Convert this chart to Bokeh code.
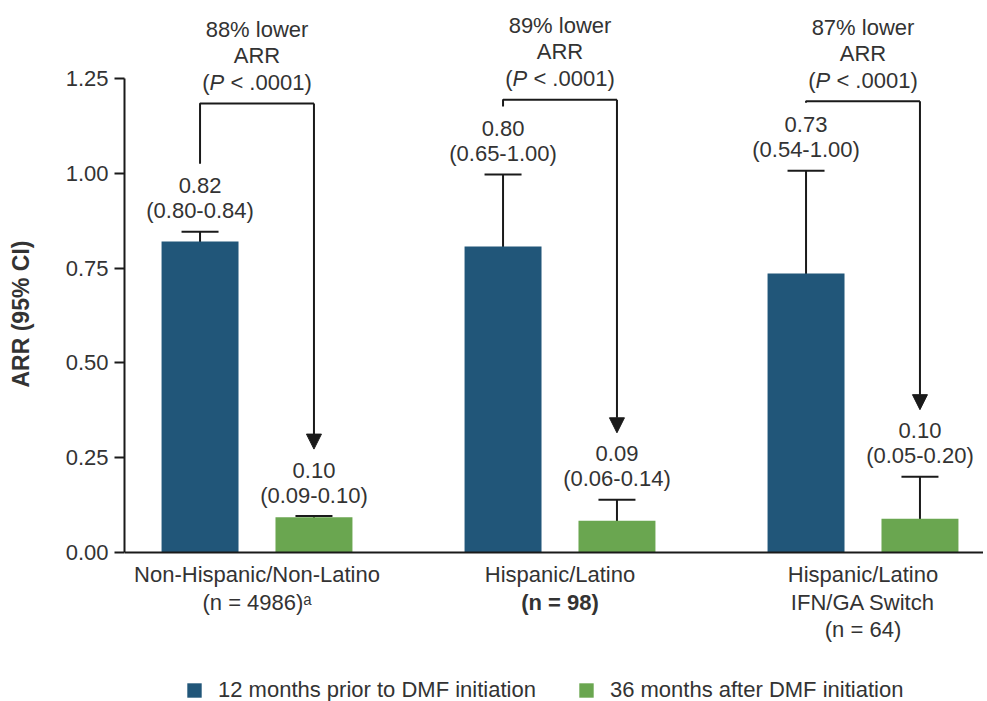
from bokeh.plotting import figure
from bokeh.models import (Range1d, FixedTicker, PrintfTickFormatter, ColumnDataSource,
                          Whisker, TeeHead, Span, Legend, LegendItem, Arrow, NormalHead, Title)
from bokeh.core.properties import value
from bokeh.embed import file_html
from bokeh.resources import INLINE

# ---------------- data ----------------
category_lines = [
    ["Non-Hispanic/Non-Latino", "(n = 4986)\u1d43"],
    ["Hispanic/Latino", "(n = 98)"],
    ["Hispanic/Latino", "IFN/GA Switch", "(n = 64)"],
]
category_bold = [
    [False, False],
    [False, True],
    [False, False, False],
]
series_names = ["12 months prior to DMF initiation", "36 months after DMF initiation"]

prior_arr = [0.820, 0.807, 0.736]
prior_lo = [0.799, 0.646, 0.535]
prior_hi = [0.846, 0.997, 1.007]
prior_value_labels = ["0.82", "0.80", "0.73"]
prior_ci_labels = ["(0.80-0.84)", "(0.65-1.00)", "(0.54-1.00)"]

after_arr = [0.093, 0.084, 0.089]
after_lo = [0.085, 0.054, 0.042]
after_hi = [0.096, 0.139, 0.200]
after_value_labels = ["0.10", "0.09", "0.10"]
after_ci_labels = ["(0.09-0.10)", "(0.06-0.14)", "(0.05-0.20)"]

reduction_labels = ["88% lower", "89% lower", "87% lower"]
reduction_metric = ["ARR", "ARR", "ARR"]
p_value_labels = ["< .0001)", "< .0001)", "< .0001)"]
bracket_top = [1.184, 1.194, 1.190]

y_ticks = [0.0, 0.25, 0.50, 0.75, 1.00, 1.25]
y_axis_title = "ARR (95% CI)"

# ---------------- layout / style ----------------
W, H = 983, 701
LEFT = 124
X0, X1 = -0.4373, 2.3977
Y0, Y1 = -0.3929, 1.4557
PX_Y = H / (Y1 - Y0)
PX_X = (W - LEFT) / (X1 - X0)


def dy(px):
    return px / PX_Y


def dx(px):
    return px / PX_X


OFFSET = 0.188
BAR_W = 0.254
BLUE = "#215679"
GREEN = "#6aa650"
TXT = "#333333"
LINE = "#1a1a1a"
FONT = value("Liberation Sans")
FS = "22px"

n = len(prior_arr)
groups = list(range(n))
x_prior = [g - OFFSET for g in groups]
x_after = [g + OFFSET for g in groups]

p = figure(width=W, height=H, x_range=Range1d(X0, X1), y_range=Range1d(Y0, Y1),
           output_backend="svg", toolbar_location=None, x_axis_location=None,
           min_border_left=LEFT, min_border_right=0, min_border_top=0, min_border_bottom=0)
p.outline_line_color = None
p.grid.visible = False
p.background_fill_color = "white"
p.border_fill_color = "white"

ax = p.yaxis[0]
ax.bounds = (0, 1.25)
ax.ticker = FixedTicker(ticks=y_ticks)
ax.formatter = PrintfTickFormatter(format="%.2f")
ax.axis_line_width = 2
ax.axis_line_color = LINE
ax.major_tick_line_width = 2
ax.major_tick_line_color = LINE
ax.major_tick_out = 10
ax.major_tick_in = 0
ax.minor_tick_out = 0
ax.minor_tick_in = 0
ax.major_label_text_font_size = FS
ax.major_label_text_font = "Liberation Sans"
ax.major_label_text_color = TXT
ax.major_label_standoff = 6
# blank spacer label so that the title below sits further from the tick labels
ax.axis_label = " "
ax.axis_label_text_font_size = "1px"
ax.axis_label_standoff = 20

# y axis title, centred on the axis extent (0 .. 1.25) rather than the whole frame
title_start_px = 0.625 * PX_Y - 72  # px above the baseline where the text starts
p.add_layout(Title(text=y_axis_title, align="left",
                   offset=(0 - Y0) * PX_Y + title_start_px, standoff=10,
                   text_font="Liberation Sans", text_font_size="23px",
                   text_font_style="bold", text_color=TXT), "left")

# bars
src_prior = ColumnDataSource(dict(x=x_prior, top=prior_arr, lo=prior_lo, hi=prior_hi))
src_after = ColumnDataSource(dict(x=x_after, top=after_arr, lo=after_lo, hi=after_hi))
r_prior = p.vbar(x="x", top="top", bottom=0, width=BAR_W, source=src_prior,
                 fill_color=BLUE, line_color=None)
r_after = p.vbar(x="x", top="top", bottom=0, width=BAR_W, source=src_after,
                 fill_color=GREEN, line_color=None)

p.add_layout(Span(location=0, dimension="width", line_color=LINE, line_width=2))

for src in (src_prior, src_after):
    p.add_layout(Whisker(base="x", lower="lo", upper="hi", source=src,
                         line_color=LINE, line_width=2,
                         upper_head=TeeHead(size=37, line_color=LINE, line_width=2),
                         lower_head=TeeHead(size=37, line_color=LINE, line_width=2)))

# value labels


def value_text(xs, his, l1, l2):
    p.text(x=xs, y=[h + dy(46) for h in his], text=l1, text_align="center",
           text_baseline="middle", text_font=FONT, text_font_size=FS, text_color=TXT)
    p.text(x=xs, y=[h + dy(21) for h in his], text=l2, text_align="center",
           text_baseline="middle", text_font=FONT, text_font_size=FS, text_color=TXT)


value_text(x_prior, prior_hi, prior_value_labels, prior_ci_labels)
value_text(x_after, after_hi, after_value_labels, after_ci_labels)

# brackets with arrows
left_bottom = [h + dy(68) for h in prior_hi]
tip = [h + dy(67) for h in after_hi]
p.multi_line(xs=[[xl, xl, xr] for xl, xr in zip(x_prior, x_after)],
             ys=[[b, t, t] for b, t in zip(left_bottom, bracket_top)],
             line_color=LINE, line_width=2)
arr_src = ColumnDataSource(dict(x=x_after, y0=bracket_top, y1=tip))
p.add_layout(Arrow(x_start="x", y_start="y0", x_end="x", y_end="y1", source=arr_src,
                   line_color=LINE, line_width=2,
                   end=NormalHead(size=15, fill_color=LINE, line_color=LINE, line_width=1)))

# reduction annotations
p.text(x=groups, y=[t + dy(74) for t in bracket_top], text=reduction_labels,
       text_align="center", text_baseline="middle", text_font=FONT,
       text_font_size=FS, text_color=TXT)
p.text(x=groups, y=[t + dy(48) for t in bracket_top], text=reduction_metric,
       text_align="center", text_baseline="middle", text_font=FONT,
       text_font_size=FS, text_color=TXT)
py = [t + dy(21) for t in bracket_top]
p.text(x=[g + dx(-47.4) for g in groups], y=py, text=["("] * n, text_align="right",
       text_baseline="middle", text_font=FONT, text_font_size=FS, text_color=TXT)
p.text(x=[g + dx(-47.4) for g in groups], y=py, text=["P"] * n, text_align="left",
       text_baseline="middle", text_font=FONT, text_font_size=FS, text_color=TXT,
       text_font_style="italic")
p.text(x=[g + dx(-26.6) for g in groups], y=py, text=p_value_labels, text_align="left",
       text_baseline="middle", text_font=FONT, text_font_size=FS, text_color=TXT)

# category labels below the baseline
cx, cy, ct, cs = [], [], [], []
for g, (lines, bolds) in enumerate(zip(category_lines, category_bold)):
    for i, (ln, b) in enumerate(zip(lines, bolds)):
        cx.append(g)
        cy.append(-dy(22 + 27.5 * i))
        ct.append(ln)
        cs.append("bold" if b else "normal")
p.text(x="x", y="y", text="t", text_font_style="s",
       source=ColumnDataSource(dict(x=cx, y=cy, t=ct, s=cs)),
       text_align="center", text_baseline="middle", text_font=FONT,
       text_font_size=FS, text_color=TXT)

legend = Legend(items=[LegendItem(label=series_names[0], renderers=[r_prior]),
                       LegendItem(label=series_names[1], renderers=[r_after])],
                orientation="horizontal", location=(61, -2),
                glyph_width=18, glyph_height=18, label_standoff=15, spacing=41,
                padding=0, margin=0, border_line_color=None, background_fill_alpha=0,
                label_text_font="Liberation Sans", label_text_font_size=FS,
                label_text_color=TXT, label_height=18)
p.add_layout(legend)

open("out.html", "w").write(file_html(p, INLINE))
